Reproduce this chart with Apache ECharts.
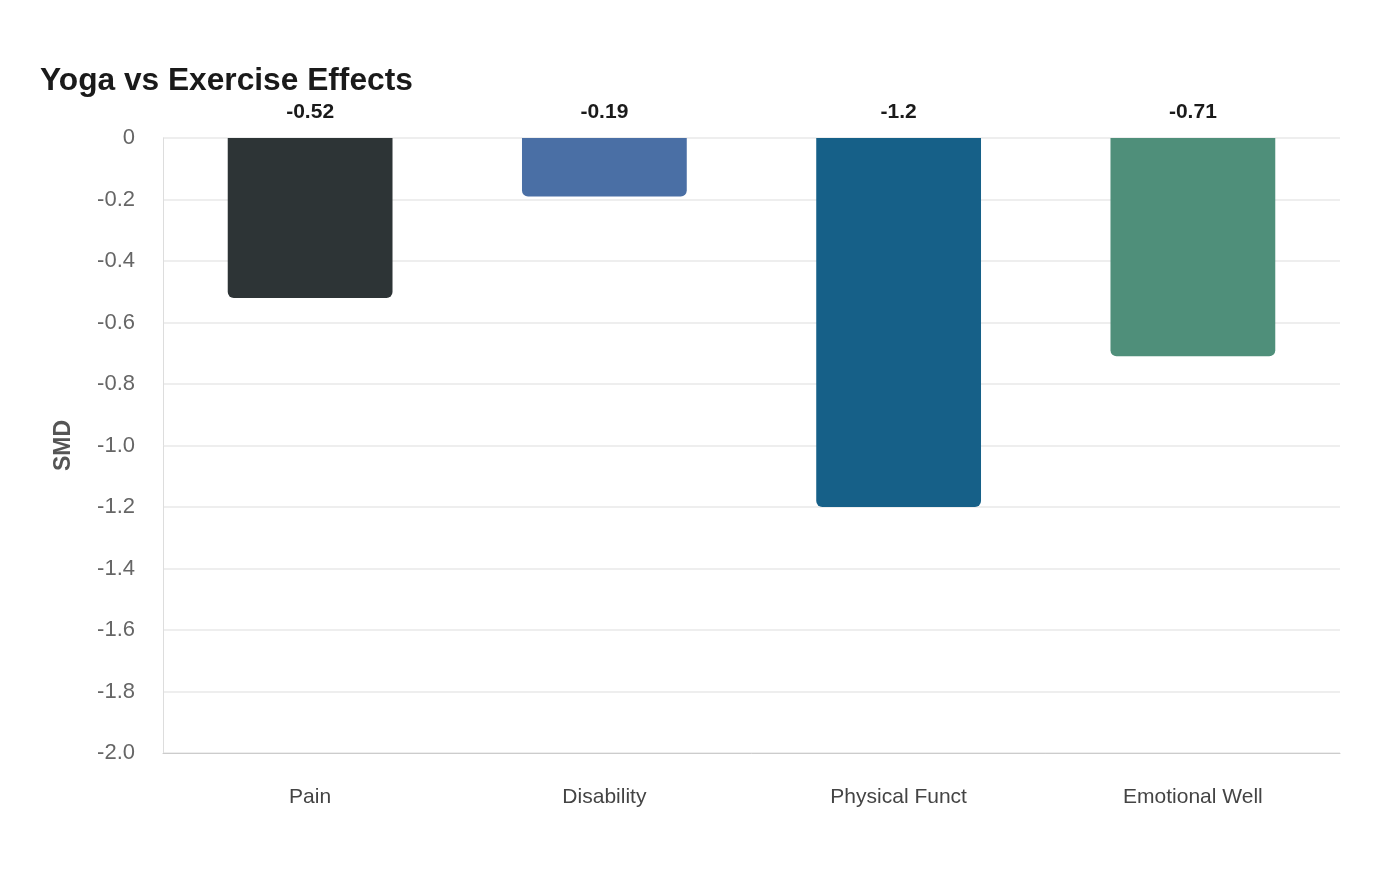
<!DOCTYPE html>
<html>
<head>
<meta charset="utf-8">
<script src="https://cdn.jsdelivr.net/npm/echarts@6/dist/echarts.min.js"></script>
<style>html,body{margin:0;padding:0;background:#fff;}#chart{width:1400px;height:880px;}</style>
</head>
<body>
<div id="chart"></div>
<script>
const categories = ['Pain', 'Disability', 'Physical Funct', 'Emotional Well'];
const smdValues = [-0.52, -0.19, -1.2, -0.71];
const barColors = ['#2d3436', '#4a6fa5', '#166088', '#4f8f7a'];

const chart = echarts.init(document.getElementById('chart'));
chart.setOption({
  backgroundColor: '#ffffff',
  title: {
    text: 'Yoga vs Exercise Effects',
    left: 35, top: 60,
    textStyle: { fontFamily: 'Liberation Sans', fontSize: 31.7, fontWeight: 'bold', color: '#1a1a1a' }
  },
  grid: { left: 163, right: 60, top: 138, bottom: 127 },
  xAxis: {
    type: 'category',
    data: categories,
    position: 'bottom',
    axisLine: { onZero: false, lineStyle: { color: '#cccccc' } },
    axisTick: { show: false },
    axisLabel: { fontFamily: 'Liberation Sans', fontSize: 21, color: '#444444', margin: 34 }
  },
  yAxis: {
    type: 'value',
    min: -2.0, max: 0, interval: 0.2,
    name: 'SMD',
    nameLocation: 'middle',
    nameGap: 88,
    nameTextStyle: { fontFamily: 'Liberation Sans', fontSize: 23, fontWeight: 'bold', color: '#555555' },
    axisLine: { show: true, lineStyle: { color: '#dddddd' } },
    axisTick: { show: false },
    axisLabel: {
      fontFamily: 'Liberation Sans', fontSize: 22, color: '#666666', margin: 28,
      padding: [4, 0, 0, 0],
      formatter: v => v === 0 ? '0' : v.toFixed(1)
    },
    splitLine: { lineStyle: { color: '#eeeeee', width: 2 } }
  },
  series: [{
    type: 'bar',
    barWidth: '56%',
    data: smdValues.map((v, i) => ({ value: v, itemStyle: { color: barColors[i] } })),
    itemStyle: { borderRadius: [0, 0, 6, 6] },
    label: {
      show: true,
      position: 'top',
      distance: 15,
      fontFamily: 'Liberation Sans', fontSize: 21, fontWeight: 'bold', color: '#1a1a1a'
    }
  }]
});
</script>
</body>
</html>
